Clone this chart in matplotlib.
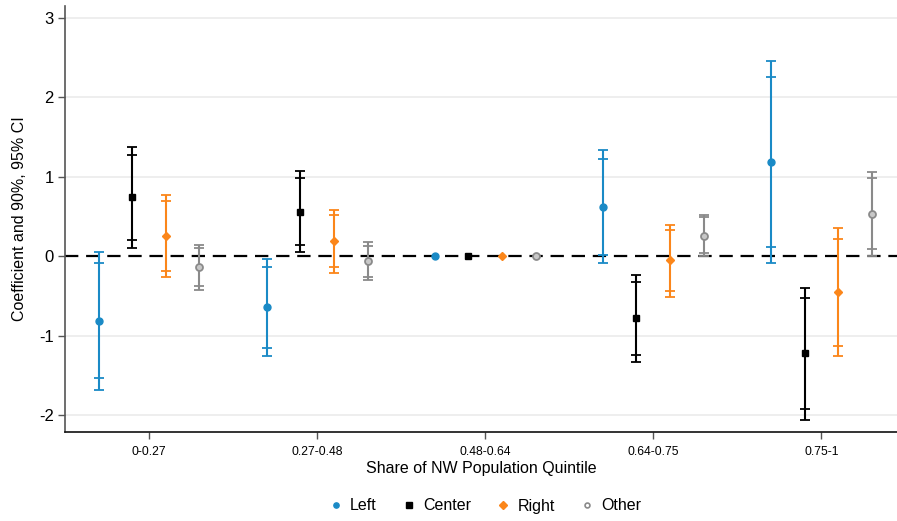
import matplotlib
matplotlib.use("Agg")
import matplotlib.pyplot as plt
from matplotlib.lines import Line2D

plt.rcParams['font.family'] = ['Liberation Sans', 'DejaVu Sans']

groups = ["0-0.27", "0.27-0.48", "0.48-0.64", "0.64-0.75", "0.75-1"]
series = ["Left", "Center", "Right", "Other"]

left_coef = [-0.81, -0.64, 0.00, 0.62, 1.19]
left_lo90 = [-1.53, -1.16, 0.00, 0.02, 0.12]
left_hi90 = [-0.08, -0.14, 0.00, 1.22, 2.26]
left_lo95 = [-1.68, -1.25, 0.00, -0.09, -0.08]
left_hi95 = [0.06, -0.04, 0.00, 1.34, 2.46]

center_coef = [0.74, 0.56, 0.00, -0.78, -1.22]
center_lo90 = [0.20, 0.14, 0.00, -1.24, -1.92]
center_hi90 = [1.28, 0.98, 0.00, -0.32, -0.53]
center_lo95 = [0.10, 0.05, 0.00, -1.33, -2.06]
center_hi95 = [1.38, 1.07, 0.00, -0.24, -0.40]

right_coef = [0.25, 0.19, 0.00, -0.05, -0.45]
right_lo90 = [-0.18, -0.14, 0.00, -0.44, -1.13]
right_hi90 = [0.69, 0.52, 0.00, 0.33, 0.22]
right_lo95 = [-0.26, -0.21, 0.00, -0.51, -1.26]
right_hi95 = [0.77, 0.58, 0.00, 0.40, 0.35]

other_coef = [-0.14, -0.06, 0.00, 0.26, 0.53]
other_lo90 = [-0.38, -0.26, 0.00, 0.04, 0.09]
other_hi90 = [0.10, 0.13, 0.00, 0.49, 0.98]
other_lo95 = [-0.42, -0.30, 0.00, 0.00, 0.01]
other_hi95 = [0.14, 0.18, 0.00, 0.52, 1.06]

data = {
    "Left": (left_coef, left_lo90, left_hi90, left_lo95, left_hi95),
    "Center": (center_coef, center_lo90, center_hi90, center_lo95, center_hi95),
    "Right": (right_coef, right_lo90, right_hi90, right_lo95, right_hi95),
    "Other": (other_coef, other_lo90, other_hi90, other_lo95, other_hi95),
}

colors = {"Left": "#1a8ac6", "Center": "#000000", "Right": "#fb861a", "Other": "#8a8a8a"}
markers = {"Left": "o", "Center": "s", "Right": "D", "Other": "o"}
msizes = {"Left": 5, "Center": 5, "Right": 4.5, "Other": 5}

fig = plt.figure(figsize=(8.97, 5.21), dpi=100)
ax = fig.add_axes([0.0725, 0.171, 0.9275, 0.8175])

ax.set_xlim(0, 24.75)
ax.set_ylim(-2.21, 3.15)

yticks = [-2, -1, 0, 1, 2, 3]
for yt in yticks:
    if yt != 0:
        ax.axhline(yt, color="#ebebeb", lw=1.2, zorder=0)
ax.axhline(0, color="black", lw=1.6, ls=(0, (6, 3.5)), zorder=1.5)

for j, s in enumerate(series):
    coef, lo90, hi90, lo95, hi95 = data[s]
    c = colors[s]
    for g in range(len(groups)):
        x = g * 5 + j + 1
        if hi95[g] > lo95[g]:
            ax.plot([x, x], [lo95[g], hi95[g]], color=c, lw=1.5, zorder=2,
                    solid_capstyle="butt")
            for yv in (lo95[g], hi95[g], lo90[g], hi90[g]):
                ax.plot([x], [yv], marker="_", ms=7, mew=1.3, color=c, zorder=2)
        if s == "Other":
            ax.plot([x], [coef[g]], marker="o", ms=msizes[s], mfc="#c8c8c8",
                    mec=c, mew=1.3, ls="none", zorder=3)
        else:
            ax.plot([x], [coef[g]], marker=markers[s], ms=msizes[s], color=c,
                    ls="none", zorder=3)

ax.set_yticks(yticks)
ax.set_yticklabels([str(v) for v in yticks], fontsize=12)
ax.set_xticks([2.5, 7.5, 12.5, 17.5, 22.5])
ax.set_xticklabels(groups, fontsize=8.7)
ax.tick_params(axis="y", direction="out", length=5, width=1, color="#555555", pad=3)
ax.tick_params(axis="x", direction="out", length=5, width=1, color="#555555", pad=5)

for side in ("top", "right"):
    ax.spines[side].set_visible(False)
ax.spines["left"].set_color("#555555")
ax.spines["bottom"].set_color("#111111")
ax.spines["left"].set_linewidth(1.2)
ax.spines["bottom"].set_linewidth(1.2)

ax.set_ylabel("Coefficient and 90%, 95% CI", fontsize=11.5, labelpad=9)
ax.set_xlabel("Share of NW Population Quintile", fontsize=11.5, labelpad=2)

handles = []
for s in series:
    if s == "Other":
        h = Line2D([], [], marker="o", ls="none", ms=3.5, mfc="white", mec=colors[s], mew=1.2)
    else:
        h = Line2D([], [], marker=markers[s], ls="none", ms=3.8, color=colors[s])
    handles.append(h)
fig.legend(handles, series, loc="center", bbox_to_anchor=(0.54, 1 - 506 / 521),
           ncol=4, frameon=False, fontsize=11.5, handletextpad=0.4,
           columnspacing=1.5, handlelength=1.0)

fig.savefig("out.png", dpi=100)
